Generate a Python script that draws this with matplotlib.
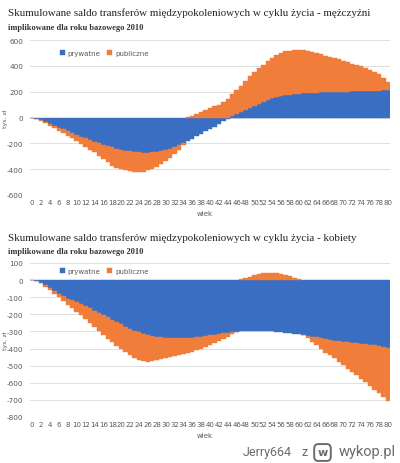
import matplotlib
matplotlib.use("Agg")
import matplotlib.pyplot as plt
import numpy as np
from matplotlib.patches import FancyBboxPatch

ages = list(range(0, 81))
age_ticks = list(range(0, 81, 2))

# Men (mężczyźni), tys. zł
men_prywatne = [0, -10, -22, -36, -50, -64, -78, -92, -105, -120,
                -135, -149, -162, -175, -187, -199, -210, -221, -232, -242,
                -250, -256, -262, -266, -270, -272, -272, -270, -266, -259,
                -250, -240, -228, -215, -200, -183, -165, -146, -126, -108,
                -90, -70, -50, -29, -8, 10, 30, 45, 60, 76,
                92, 106, 120, 134, 148, 157, 165, 172, 177, 181,
                185, 187, 189, 191, 192, 194, 195, 197, 198, 199,
                200, 201, 202, 203, 204, 205, 206, 208, 209, 211, 213]
men_publiczne = [0, -2, -4, -9, -16, -21, -27, -30, -35, -42,
                 -50, -57, -66, -73, -81, -96, -110, -126, -140, -146,
                 -150, -154, -156, -155, -153, -148, -138, -127, -114, -101,
                 -88, -75, -57, -37, -15, 3, 15, 30, 45, 58,
                 72, 86, 100, 120, 140, 170, 185, 200, 225, 244,
                 260, 279, 290, 301, 312, 328, 338, 340, 341, 342,
                 341, 337, 329, 319, 308, 296, 285, 274, 264, 252,
                 240, 228, 216, 204, 191, 175, 159, 142, 124, 97, 65]

# Women (kobiety), tys. zł
women_prywatne = [0, -5, -15, -30, -45, -62, -80, -95, -108, -118,
                  -128, -140, -153, -165, -178, -191, -205, -218, -232, -245,
                  -258, -272, -285, -295, -305, -314, -322, -328, -332, -335,
                  -338, -339, -340, -340, -340, -338, -336, -333, -330, -326,
                  -322, -318, -315, -311, -308, -305, -302, -300, -298, -297,
                  -297, -297, -298, -299, -300, -302, -305, -307, -310, -313,
                  -317, -321, -325, -330, -335, -340, -345, -349, -353, -357,
                  -360, -363, -366, -369, -372, -375, -378, -382, -386, -390, -394]
women_publiczne = [0, -1, -3, -8, -13, -18, -20, -27, -37, -47,
                   -57, -65, -73, -85, -97, -107, -115, -124, -130, -139,
                   -147, -151, -155, -160, -163, -161, -156, -146, -136, -126,
                   -117, -110, -103, -97, -92, -87, -82, -76, -70, -64,
                   -58, -51, -43, -33, -22, -12, -3, 4, 12, 20,
                   28, 34, 39, 42, 43, 41, 37, 31, 22, 14,
                   6, -2, -15, -30, -47, -64, -80, -91, -103, -120,
                   -138, -154, -169, -187, -206, -223, -240, -258, -274, -293, -311]

series_names = ["prywatne", "publiczne"]
men_yticks = [600, 400, 200, 0, -200, -400, -600]
women_yticks = [100, 0, -100, -200, -300, -400, -500, -600, -700, -800]

BLUE = "#3a6ec3"
ORANGE = "#f07e3a"
GRID = "#d9d9d9"
TXT = "#595959"

fig = plt.figure(figsize=(4.0, 4.64), dpi=100)
W, H = 400.0, 464.0


def ax_rect(x0, y0, x1, y1):
    return [x0 / W, 1 - y1 / H, (x1 - x0) / W, (y1 - y0) / H]


def draw(ax, priv, publ, yticks, legend_y):
    x = np.array(ages)
    p = np.array(priv, dtype=float)
    q = np.array(publ, dtype=float)
    bottom_q = np.where(q >= 0, np.maximum(p, 0), np.minimum(p, 0))
    ax.bar(x, p, width=1.0, color=BLUE, edgecolor=BLUE, linewidth=0.3, label=series_names[0], zorder=2)
    ax.bar(x, q, width=1.0, bottom=bottom_q, color=ORANGE, edgecolor=ORANGE, linewidth=0.3,
           label=series_names[1], zorder=2)
    ax.set_xlim(-0.5, 80.5)
    ax.set_ylim(min(yticks), max(yticks))
    ax.set_yticks(yticks)
    ax.set_yticklabels([str(t) for t in yticks], fontsize=5.2, color=TXT)
    ax.set_xticks(age_ticks)
    ax.set_xticklabels([str(t) for t in age_ticks], fontsize=5.0, color=TXT)
    ax.tick_params(length=0, pad=3)
    ax.tick_params(axis="y", pad=5)
    for s in ax.spines.values():
        s.set_visible(False)
    ax.yaxis.grid(True, color=GRID, linewidth=0.6)
    ax.set_axisbelow(True)
    ax.set_xlabel("wiek", fontsize=5.0, color=TXT, labelpad=1)
    ax.xaxis.set_label_coords(0.485, -0.095)
    ax.set_ylabel("tys. zł", fontsize=4.5, color=TXT)
    ax.yaxis.set_label_coords(-0.062, 0.5)
    leg = ax.legend(loc="center left", bbox_to_anchor=(0.075, legend_y), ncol=2, frameon=False,
                    fontsize=5.0, handlelength=0.7, handleheight=0.7, handletextpad=0.4,
                    columnspacing=1.0, borderaxespad=0)
    for t in leg.get_texts():
        t.set_color(TXT)


ax1 = fig.add_axes(ax_rect(30, 41, 390, 196))
draw(ax1, men_prywatne, men_publiczne, men_yticks, 0.915)
ax2 = fig.add_axes(ax_rect(30, 264, 390, 418))
draw(ax2, women_prywatne, women_publiczne, women_yticks, 0.95)

serif = ["Liberation Serif", "DejaVu Serif"]
fig.text(8 / W, 1 - 13 / H, "Skumulowane saldo transferów międzypokoleniowych w cyklu życia - mężczyźni",
         fontsize=7.9, family=serif, color="#222222", va="center", ha="left")
fig.text(8 / W, 1 - 28 / H, "implikowane dla roku bazowego 2010",
         fontsize=6.0, family=serif, weight="bold", color="#333333", va="center", ha="left")
fig.text(8 / W, 1 - 238 / H, "Skumulowane saldo transferów międzypokoleniowych w cyklu życia - kobiety",
         fontsize=7.9, family=serif, color="#222222", va="center", ha="left")
fig.text(8 / W, 1 - 252 / H, "implikowane dla roku bazowego 2010",
         fontsize=6.0, family=serif, weight="bold", color="#333333", va="center", ha="left")

# watermark
wm = ["Roboto", "DejaVu Sans"]
fig.text(243 / W, 1 - 453 / H, "Jerry664", fontsize=9.0, color="#6b6b6b", ha="left", va="center",
         family=wm)
fig.text(302 / W, 1 - 453 / H, "z", fontsize=9.0, color="#6b6b6b", ha="left", va="center",
         family=wm)
box = FancyBboxPatch((315 / W, 1 - 461 / H), 15 / W, 15 / H, boxstyle="round,pad=0.002,rounding_size=0.01",
                     transform=fig.transFigure, facecolor="white", edgecolor="#6b6b6b", linewidth=1.4)
fig.add_artist(box)
fig.text(322.5 / W, 1 - 453.5 / H, "w", fontsize=8, weight="bold", color="#6b6b6b", ha="center", va="center")
fig.text(396 / W, 1 - 452 / H, "wykop.pl", fontsize=10.5, color="#6b6b6b", ha="right", va="center",
         family=wm)

fig.savefig("out.png", dpi=100)
